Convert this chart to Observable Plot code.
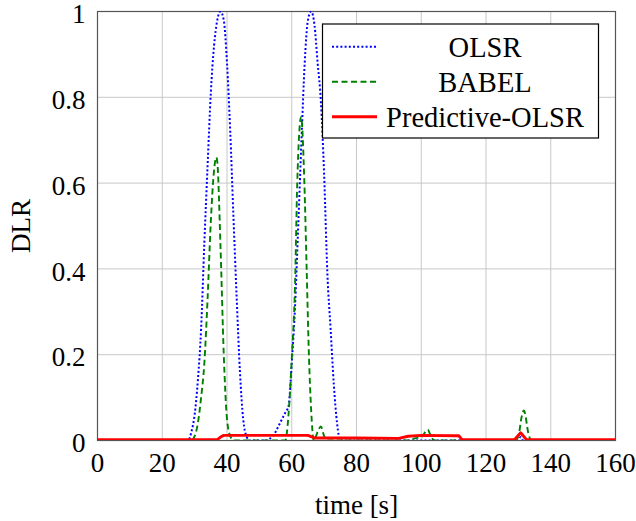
<!DOCTYPE html>
<html>
<head>
<meta charset="utf-8">
<script src="https://cdn.jsdelivr.net/npm/d3@7"></script>
<script src="https://cdn.jsdelivr.net/npm/@observablehq/plot@0.6"></script>
<style>
  html, body { margin: 0; padding: 0; background: white; }
  svg text { font-family: 'Liberation Serif', 'Times New Roman', serif; font-variant: normal; }
</style>
</head>
<body>
<div id="chart"></div>
<script>
// ---- data ----
const seriesNames = ["OLSR", "BABEL", "Predictive-OLSR"];
const xTicks = [0, 20, 40, 60, 80, 100, 120, 140, 160];
const yTicks = [0, 0.2, 0.4, 0.6, 0.8, 1];
const yTickLabels = ["0", "0.2", "0.4", "0.6", "0.8", "1"];

const olsrT = [0, 28, 29, 30, 31, 32, 33, 34, 35, 36, 37, 38, 39, 40, 41, 42, 43, 44, 45, 46, 47,
  52, 53, 54, 55, 56, 57, 58, 59, 60, 61, 62, 63, 64, 65, 66, 67, 68, 69, 70, 71, 72, 73, 74, 75,
  130, 130.7, 131.5, 160];
const olsrV = [0, 0, 0.02, 0.06, 0.14, 0.26, 0.46, 0.64, 0.81, 0.92, 0.98, 1.0, 0.98, 0.88, 0.72, 0.52, 0.33, 0.16, 0.05, 0.01, 0,
  0, 0.003, 0.01, 0.02, 0.035, 0.05, 0.065, 0.08, 0.18, 0.31, 0.5, 0.7, 0.88, 0.98, 1.0, 0.97, 0.88, 0.79, 0.62, 0.39, 0.26, 0.13, 0.04, 0,
  0, 0.008, 0, 0];

const babelT = [0, 29, 30, 31, 32, 33, 34, 35, 36, 36.7, 37, 38, 39, 40, 41, 42, 57, 58, 59, 60, 61, 61.7, 62.9, 63.9, 64.6, 65.3, 66, 66.8, 68, 69, 70, 71,
  96, 98, 100, 102, 103, 104, 129, 130, 131, 131.7, 132, 133, 134, 160];
const babelV = [0, 0, 0.01, 0.04, 0.1, 0.18, 0.33, 0.51, 0.63, 0.66, 0.65, 0.45, 0.2, 0.05, 0.01, 0, 0, 0, 0.06, 0.19, 0.36, 0.6, 0.754, 0.6, 0.4, 0.2, 0.07, 0, 0.02, 0.033, 0.01, 0,
  0, 0.005, 0.008, 0.025, 0.01, 0, 0, 0.01, 0.055, 0.07, 0.065, 0.02, 0, 0];

const predT = [0, 37, 38, 39, 40, 50, 60, 65, 67, 80, 93, 96, 100, 110, 111.6, 112.6, 128.8, 130.7, 132.5, 160];
const predV = [0.002, 0.002, 0.008, 0.012, 0.012, 0.012, 0.012, 0.012, 0.006, 0.006, 0.005, 0.01, 0.012, 0.011, 0.011, 0.002, 0.002, 0.018, 0.002, 0.002];

const colors = ["#0000ff", "#008000", "#ff0000"];

const toRows = (T, V) => T.map((t, i) => ({t, v: V[i]}));
const olsr = toRows(olsrT, olsrV);
const babel = toRows(babelT, babelV);
const pred = toRows(predT, predV);

const font = "'Liberation Serif', 'Times New Roman', serif";
const dashes = ["2,2.2", "6,3.5", null];
const widths = [2, 1.9, 2.9];

const chart = Plot.plot({
  width: 636,
  height: 521,
  marginLeft: 97,
  marginRight: 21,
  marginTop: 11,
  marginBottom: 81,
  style: {fontFamily: font, fontSize: "27px", background: "white", color: "black", overflow: "visible"},
  x: {domain: [0, 160]},
  y: {domain: [0, 1]},
  marks: [
    Plot.gridX(xTicks, {stroke: "#c8c8c8", strokeOpacity: 1, strokeWidth: 1}),
    Plot.gridY(yTicks, {stroke: "#c8c8c8", strokeOpacity: 1, strokeWidth: 1}),
    Plot.frame({stroke: "#555", strokeWidth: 1.2}),
    Plot.axisX(xTicks, {tickSize: 0, tickPadding: 12, fontSize: 27, fontFamily: font, fontVariant: "normal", label: "time [s]", labelAnchor: "center", labelOffset: 73, labelArrow: "none"}),
    Plot.axisY(yTicks, {tickSize: 0, tickPadding: 12, fontSize: 27, fontFamily: font, fontVariant: "normal", dy: 3, tickFormat: (d, i) => yTickLabels[i], label: "DLR", labelAnchor: "center", labelOffset: 87, labelArrow: "none"}),
    Plot.line(olsr, {x: "t", y: "v", stroke: colors[0], strokeWidth: widths[0], strokeDasharray: dashes[0], strokeLinecap: "butt", curve: "monotone-x", clip: true}),
    Plot.line(babel, {x: "t", y: "v", stroke: colors[1], strokeWidth: widths[1], strokeDasharray: dashes[1], strokeLinecap: "butt", curve: "monotone-x", clip: true}),
    Plot.line(pred, {x: "t", y: "v", stroke: colors[2], strokeWidth: widths[2], curve: "linear", clip: true})
  ]
});

document.getElementById("chart").appendChild(chart);

// ---- legend (inside the plot area, top right) ----
const svg = d3.select(chart);
const lg = svg.append("g").attr("class", "legend");
const box = {x: 322.5, y: 24, w: 276, h: 114};
lg.append("rect").attr("x", box.x).attr("y", box.y).attr("width", box.w).attr("height", box.h)
  .attr("fill", "white").attr("stroke", "black").attr("stroke-width", 1.2);
seriesNames.forEach((name, i) => {
  const yy = 46.7 + i * 35;
  const ln = lg.append("line").attr("x1", 332).attr("x2", 377).attr("y1", yy).attr("y2", yy)
    .attr("stroke", colors[i]).attr("stroke-width", widths[i]);
  if (dashes[i]) ln.attr("stroke-dasharray", dashes[i]);
  lg.append("text").attr("x", 485).attr("y", yy).attr("dy", "0.35em")
    .attr("text-anchor", "middle").attr("font-family", font).attr("font-size", 28.5)
    .attr("fill", "black").text(name);
});
</script>
</body>
</html>
